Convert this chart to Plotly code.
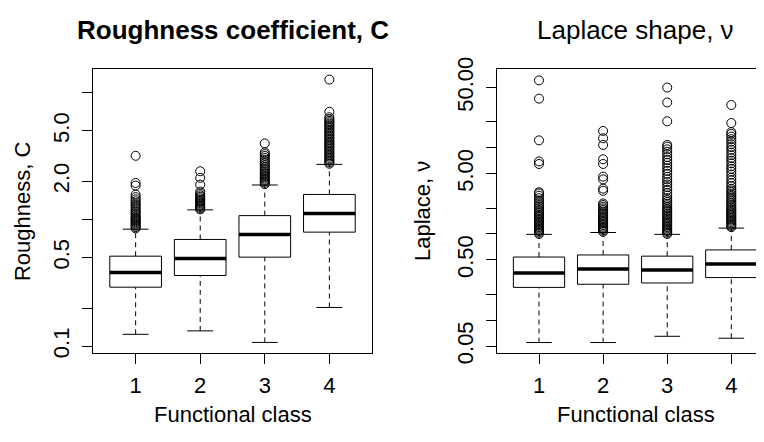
import plotly.graph_objects as go

# ---------------- data ----------------
classes = [1, 2, 3, 4]
class_labels = ["1", "2", "3", "4"]

# Roughness coefficient C (left panel)
c_lw = [0.124, 0.132, 0.107, 0.202]
c_q1 = [0.292, 0.361, 0.504, 0.794]
c_med = [0.382, 0.492, 0.759, 1.114]
c_q3 = [0.513, 0.695, 1.072, 1.575]
c_uw = [0.838, 1.19, 1.87, 2.72]
c_out = [
    [0.85, 0.87, 0.89, 0.91, 0.93, 0.95, 0.97, 0.99, 1.01, 1.03, 1.06, 1.09, 1.12,
     1.15, 1.18, 1.22, 1.26, 1.30, 1.34, 1.39, 1.44, 1.50, 1.57, 1.85, 1.94, 3.18],
    [1.20, 1.22, 1.25, 1.28, 1.31, 1.34, 1.37, 1.40, 1.43, 1.47, 1.51, 1.55, 1.60,
     1.66, 1.88, 2.13, 2.40],
    [1.90, 1.95, 2.00, 2.05, 2.10, 2.15, 2.20, 2.26, 2.32, 2.38, 2.45, 2.52, 2.60,
     2.68, 2.77, 2.86, 2.96, 3.06, 3.17, 3.28, 3.39, 3.98],
    [2.75, 2.82, 2.90, 2.98, 3.06, 3.14, 3.22, 3.31, 3.40, 3.50, 3.60, 3.70, 3.80,
     3.90, 4.00, 4.10, 4.22, 4.34, 4.46, 4.58, 4.70, 4.83, 4.96, 5.10, 5.25, 5.40,
     5.55, 5.70, 5.85, 6.00, 6.20, 6.40, 7.08, 12.7],
]

# Laplace shape nu (right panel)
v_lw = [0.055, 0.055, 0.065, 0.0617]
v_q1 = [0.240, 0.261, 0.270, 0.312]
v_med = [0.353, 0.391, 0.381, 0.448]
v_q3 = [0.540, 0.571, 0.553, 0.653]
v_uw = [0.99, 1.04, 0.99, 1.17]
v_out = [
    [1.00, 1.04, 1.08, 1.12, 1.16, 1.20, 1.25, 1.30, 1.35, 1.40, 1.45, 1.50, 1.56,
     1.62, 1.68, 1.75, 1.82, 1.90, 2.00, 2.10, 2.20, 2.32, 2.45, 2.60, 2.78, 2.95,
     3.05, 6.49, 6.95, 12.2, 37.2, 60.6],
    [1.06, 1.10, 1.14, 1.18, 1.22, 1.27, 1.32, 1.37, 1.42, 1.48, 1.54, 1.60, 1.67,
     1.74, 1.82, 1.90, 1.98, 2.07, 2.17, 2.26, 3.17, 3.36, 4.30, 4.63, 6.49, 7.36,
     10.8, 12.9, 15.7],
    [1.00, 1.04, 1.08, 1.12, 1.16, 1.20, 1.25, 1.30, 1.35, 1.40, 1.46, 1.52, 1.58,
     1.65, 1.72, 1.80, 1.88, 1.96, 2.05, 2.15, 2.25, 2.36, 2.48, 2.60, 2.80, 3.00,
     3.25, 3.50, 3.75, 4.00, 4.30, 4.60, 5.00, 5.40, 5.80, 6.20, 6.70, 7.20, 7.80,
     8.40, 9.00, 9.60, 10.3, 10.8, 20.3, 33.6, 50.0],
    [1.20, 1.24, 1.28, 1.33, 1.38, 1.43, 1.48, 1.54, 1.60, 1.66, 1.72, 1.79, 1.86,
     1.94, 2.02, 2.10, 2.20, 2.30, 2.40, 2.52, 2.64, 2.77, 2.90, 3.05, 3.20, 3.35,
     3.60, 3.90, 4.20, 4.50, 4.90, 5.30, 5.70, 6.10, 6.60, 7.10, 7.60, 8.20, 8.80,
     9.50, 10.2, 11.0, 11.8, 12.6, 13.5, 14.5, 15.2, 19.4, 31.4],
]

c_tickvals = [0.1, 0.2, 0.5, 1, 2, 5, 10]
c_ticktext = ["0.1", "", "0.5", "", "2.0", "5.0", ""]
v_tickvals = [0.05, 0.1, 0.2, 0.5, 1, 2, 5, 10, 20, 50]
v_ticktext = ["0.05", "", "", "0.50", "", "", "5.00", "", "", "50.00"]

# ---------------- style ----------------
FONT = "Liberation Sans, Arial, Helvetica, sans-serif"
W, H = 764, 442
OFF = 8         # default page body margin of the html page
HALF = 0.4      # half box width
CAP = 0.2       # half staple width

fig = go.Figure()


def add_panel(xa, ya, lw, q1, med, q3, uw, outs):
    for i, x in enumerate(classes):
        fig.add_trace(go.Scatter(x=[x, x], y=[q3[i], uw[i]], mode="lines",
                                 line=dict(color="black", width=1, dash="5px,4px"),
                                 xaxis=xa, yaxis=ya, hoverinfo="skip"))
        fig.add_trace(go.Scatter(x=[x, x], y=[lw[i], q1[i]], mode="lines",
                                 line=dict(color="black", width=1, dash="5px,4px"),
                                 xaxis=xa, yaxis=ya, hoverinfo="skip"))
        for v in (lw[i], uw[i]):
            fig.add_trace(go.Scatter(x=[x - CAP, x + CAP], y=[v, v], mode="lines",
                                     line=dict(color="black", width=1),
                                     xaxis=xa, yaxis=ya, hoverinfo="skip"))
        fig.add_trace(go.Scatter(
            x=[x - HALF, x + HALF, x + HALF, x - HALF, x - HALF],
            y=[q1[i], q1[i], q3[i], q3[i], q1[i]],
            mode="lines", fill="toself", fillcolor="white",
            line=dict(color="black", width=1), xaxis=xa, yaxis=ya, hoverinfo="skip"))
        fig.add_trace(go.Scatter(x=[x - HALF, x + HALF], y=[med[i], med[i]], mode="lines",
                                 line=dict(color="black", width=3.5),
                                 xaxis=xa, yaxis=ya, hoverinfo="skip"))
        fig.add_trace(go.Scatter(x=[x] * len(outs[i]), y=outs[i], mode="markers",
                                 marker=dict(symbol="circle-open", size=9, color="black",
                                             line=dict(width=1, color="black")),
                                 xaxis=xa, yaxis=ya, hoverinfo="skip"))


add_panel("x", "y", c_lw, c_q1, c_med, c_q3, c_uw, c_out)
add_panel("x2", "y2", v_lw, v_q1, v_med, v_q3, v_uw, v_out)


def px_x(p):
    return (p - OFF) / W


def px_y(p):
    return 1 - (p - OFF) / H


tickfont = dict(family=FONT, size=22, color="black")
common_x = dict(showgrid=False, zeroline=False, showline=True, linecolor="black",
                linewidth=1, ticks="outside", ticklen=10, tickcolor="black",
                tickwidth=1, tickfont=tickfont, tickvals=classes, ticktext=class_labels,
                ticklabelstandoff=3)
common_y = dict(showgrid=False, zeroline=False, showline=True, linecolor="black",
                linewidth=1, ticks="outside", ticklen=10, tickcolor="black",
                tickwidth=1, tickfont=tickfont, type="log", tickangle=-90,
                ticklabelstandoff=4)

fig.update_layout(
    width=W, height=H, margin=dict(l=0, r=0, t=0, b=0),
    paper_bgcolor="white", plot_bgcolor="white", showlegend=False,
    xaxis=dict(domain=[px_x(93), px_x(372)], range=[0.34, 4.66], mirror=True,
               anchor="y", **common_x),
    yaxis=dict(domain=[px_y(359), px_y(60)], range=[-1.052, 1.185], mirror=True,
               anchor="x", tickvals=c_tickvals, ticktext=c_ticktext, **common_y),
    xaxis2=dict(domain=[px_x(496.7), px_x(764)], range=[0.34, 4.51], mirror=True,
                anchor="y2", **common_x),
    yaxis2=dict(domain=[px_y(359), px_y(60)], range=[-1.378, 1.911], mirror=False,
                anchor="x2", tickvals=v_tickvals, ticktext=v_ticktext, **common_y),
)

ann = [
    dict(text="<b>Roughness coefficient, C</b>", x=px_x(233), y=px_y(19), size=26),
    dict(text="Laplace shape, ν", x=px_x(635), y=px_y(19), size=26),
    dict(text="Functional class", x=px_x(232.5), y=px_y(424), size=22),
    dict(text="Functional class", x=px_x(635.5), y=px_y(424), size=22),
]
for a in ann:
    fig.add_annotation(text=a["text"], x=a["x"], y=a["y"], xref="paper", yref="paper",
                       xanchor="center", yanchor="middle", showarrow=False,
                       font=dict(family=FONT, size=a["size"], color="black"))
for text, xp in (("Roughness, C", 22), ("Laplace, ν", 422)):
    fig.add_annotation(text=text, x=px_x(xp), y=px_y(209.5), xref="paper", yref="paper",
                       xanchor="center", yanchor="middle", showarrow=False, textangle=-90,
                       font=dict(family=FONT, size=22, color="black"))

fig.write_html("out.html")
